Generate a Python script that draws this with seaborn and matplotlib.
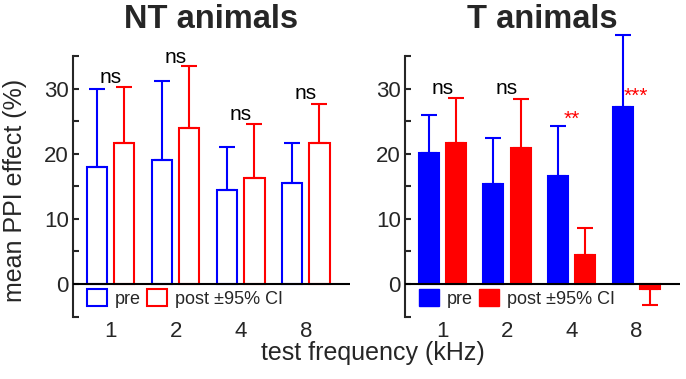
import numpy as np
import pandas as pd
import seaborn as sns
import matplotlib.pyplot as plt
from matplotlib.patches import Patch

# data
freqs = ['1', '2', '4', '8']

nt_pre = [18.0, 19.0, 14.4, 15.5]
nt_post = [21.7, 24.0, 16.2, 21.7]
nt_pre_ci = [29.9, 31.1, 21.0, 21.6]      # upper 95% CI
nt_post_ci = [30.2, 33.4, 24.5, 27.7]

t_pre = [20.1, 15.4, 16.6, 27.2]
t_post = [21.6, 20.9, 4.5, -0.8]
t_pre_ci = [26.0, 22.4, 24.2, 38.2]
t_post_ci = [28.5, 28.4, 8.6, -3.2]

nt_sig = ['ns', 'ns', 'ns', 'ns']
t_sig = ['ns', 'ns', '**', '***']
nt_sig_y = [30.8, 34.0, 25.2, 28.4]
t_sig_y = [29.2, 29.2, 24.4, 28.0]

sns.set_style('ticks')
plt.rcParams['font.family'] = ['Liberation Sans', 'DejaVu Sans']

colors = {'pre': '#0000ff', 'post': '#ff0000'}


def make_df(pre, post):
    return pd.DataFrame({
        'freq': freqs * 2,
        'cond': ['pre'] * 4 + ['post'] * 4,
        'val': pre + post,
    })


fig = plt.figure(figsize=(6.86, 3.79), dpi=100)
ax1 = fig.add_axes([0.1064, 0.156, 0.4038, 0.765])
ax2 = fig.add_axes([0.5904, 0.156, 0.4009, 0.765])

panels = [
    (ax1, nt_pre, nt_post, nt_pre_ci, nt_post_ci, nt_sig, nt_sig_y, False, 'NT animals'),
    (ax2, t_pre, t_post, t_pre_ci, t_post_ci, t_sig, t_sig_y, True, 'T animals'),
]

for ax, pre, post, pre_ci, post_ci, sig, sig_y, filled, title in panels:
    df = make_df(pre, post)
    sns.barplot(data=df, x='freq', y='val', hue='cond', palette=colors,
                errorbar=None, width=0.84, gap=0.26, saturation=1,
                fill=filled, linewidth=1.5, legend=False, ax=ax)

    for cont, vals, cis, cond in zip(ax.containers, [pre, post], [pre_ci, post_ci], ['pre', 'post']):
        c = colors[cond]
        for bar, v, ci in zip(cont, vals, cis):
            bar.set_edgecolor(c)
            xc = bar.get_x() + bar.get_width() / 2
            if v >= 0:
                err = [[0], [ci - v]]
            else:
                err = [[v - ci], [0]]
            ax.errorbar(xc, v, yerr=err, color=c, lw=1.5, capsize=5.5,
                        capthick=1.5, clip_on=False, zorder=3)

    for i, (s, y) in enumerate(zip(sig, sig_y)):
        ax.text(i, y, s, ha='center', va='baseline', fontsize=15,
                color='black' if s == 'ns' else '#ff0000')

    ax.axhline(0, color='black', lw=1.5, zorder=4)
    ax.set_xlim(-0.58, 3.68)
    ax.set_ylim(-5.5, 39)
    ax.set_yticks([0, 10, 20, 30])
    ax.set_yticks([-5, 5, 15, 25, 35], minor=True)
    ax.tick_params(axis='y', which='both', direction='in', width=1.5, labelsize=16, pad=3)
    ax.tick_params(axis='y', which='major', length=4)
    ax.tick_params(axis='y', which='minor', length=4)
    ax.tick_params(axis='x', length=0, labelsize=16, pad=1)
    for side in ['top', 'right', 'bottom']:
        ax.spines[side].set_visible(False)
    ax.spines['left'].set_linewidth(1.5)
    ax.spines['left'].set_bounds(-5, 35)
    ax.set_xlabel('')
    ax.set_ylabel('')
    ax.set_title(title, fontsize=23.5, fontweight='bold', y=1.005, pad=0)

    if filled:
        handles = [Patch(facecolor=colors['pre'], edgecolor=colors['pre']),
                   Patch(facecolor=colors['post'], edgecolor=colors['post'])]
    else:
        handles = [Patch(facecolor='white', edgecolor=colors['pre'], lw=1.5),
                   Patch(facecolor='white', edgecolor=colors['post'], lw=1.5)]
    ax.legend(handles, ['pre', 'post \u00b195% CI'], ncol=2, frameon=False,
              loc='upper left', bbox_to_anchor=(0.05, 0.105), borderpad=0,
              borderaxespad=0, fontsize=13, handlelength=1.1, handleheight=1.05,
              handletextpad=0.45, columnspacing=0.35)

fig.text(15 / 686, 1 - 190 / 379, 'mean PPI effect (%)', rotation=90,
         ha='center', va='center', fontsize=18)
fig.text(373 / 686, 1 - 353 / 379, 'test frequency (kHz)',
         ha='center', va='center', fontsize=18)

fig.savefig('out.png', dpi=100)
